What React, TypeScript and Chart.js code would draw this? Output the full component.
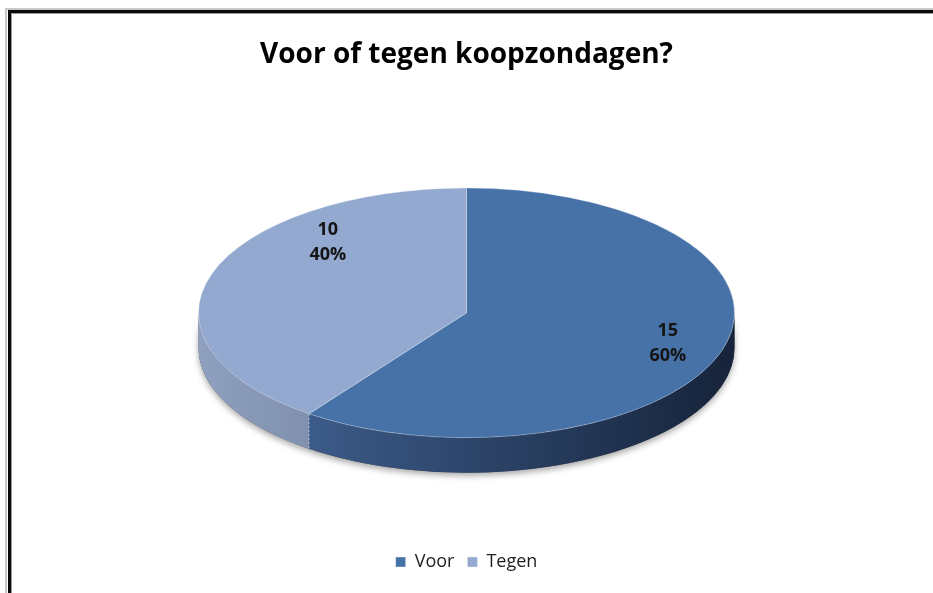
import React, { useEffect, useRef } from 'react';
import { Chart, registerables } from 'chart.js';

Chart.register(...registerables);

const TITLE = 'Voor of tegen koopzondagen?';
const categories = ['Voor', 'Tegen'];
const values = [15, 10];

const topColors = ['#4672A8', '#93A9CF'];
const sideStops = [
  ['#4A6CA0', '#37547F', '#16233A'],
  ['#8FA0C0', '#7A89A7', '#6A7A96'],
];

const pie3d = {
  id: 'pie3d',
  beforeDatasetsDraw(chart: any, _args: any, opts: any) {
    const meta = chart.getDatasetMeta(0);
    const ctx = chart.ctx as CanvasRenderingContext2D;
    const k = opts.tilt;
    const depth = opts.depth;
    if (!meta.data.length) return;
    const p0 = meta.data[0].getProps(['x', 'y', 'outerRadius']);
    const cx = p0.x, cy = p0.y, R = p0.outerRadius;

    ctx.save();
    ctx.beginPath();
    ctx.ellipse(cx, cy, R, R * k, 0, 0, Math.PI);
    ctx.ellipse(cx, cy + depth, R, R * k, 0, Math.PI, 0, true);
    ctx.closePath();
    ctx.shadowColor = 'rgba(0,0,0,0.35)';
    ctx.shadowBlur = 6;
    ctx.shadowOffsetY = 3;
    ctx.fillStyle = '#555';
    ctx.fill();
    ctx.restore();

    meta.data.forEach((arc: any, i: number) => {
      const { startAngle, endAngle } = arc.getProps(['startAngle', 'endAngle']);
      for (const base of [-2 * Math.PI, 0, 2 * Math.PI]) {
        const a1 = Math.max(startAngle, base);
        const a2 = Math.min(endAngle, base + Math.PI);
        if (a2 <= a1) continue;
        ctx.save();
        const g = ctx.createLinearGradient(cx - R, 0, cx + R, 0);
        const s = sideStops[i];
        g.addColorStop(0, s[0]);
        g.addColorStop(0.3, s[1]);
        g.addColorStop(1, s[2]);
        ctx.beginPath();
        ctx.ellipse(cx, cy, R, R * k, 0, a1, a2);
        ctx.ellipse(cx, cy + depth, R, R * k, 0, a2, a1, true);
        ctx.closePath();
        ctx.fillStyle = g;
        ctx.fill();
        ctx.restore();
      }
      const a = startAngle;
      const sa = Math.sin(a);
      if (sa > 0) {
        const px = cx + R * Math.cos(a);
        const py = cy + R * k * sa;
        ctx.save();
        ctx.strokeStyle = 'rgba(230,236,245,0.6)';
        ctx.lineWidth = 1;
        ctx.setLineDash([2, 2]);
        ctx.beginPath();
        ctx.moveTo(px, py);
        ctx.lineTo(px, py + depth);
        ctx.stroke();
        ctx.restore();
      }
    });

    ctx.save();
    ctx.translate(0, cy);
    ctx.scale(1, k);
    ctx.translate(0, -cy);
  },
  afterDatasetsDraw(chart: any, _args: any, opts: any) {
    const ctx = chart.ctx as CanvasRenderingContext2D;
    ctx.restore();
    const meta = chart.getDatasetMeta(0);
    const data = chart.data.datasets[0].data as number[];
    const total = data.reduce((a, b) => a + b, 0);
    const k = opts.tilt;
    meta.data.forEach((arc: any, i: number) => {
      const { x, y, startAngle, endAngle, outerRadius } = arc.getProps([
        'x', 'y', 'startAngle', 'endAngle', 'outerRadius',
      ]);
      const place = opts.labelPlacement[i];
      const mid = (startAngle + endAngle) / 2 + place.shift;
      const lx = x + Math.cos(mid) * outerRadius * place.r;
      const ly = y + Math.sin(mid) * outerRadius * place.r * k;
      ctx.save();
      ctx.fillStyle = '#141414';
      ctx.font = 'bold 18px "Open Sans"';
      ctx.textAlign = 'center';
      ctx.textBaseline = 'middle';
      ctx.fillText(String(data[i]), lx, ly - 12);
      ctx.fillText(Math.round((data[i] / total) * 100) + '%', lx, ly + 13);
      ctx.restore();
    });
  },
};

const frame = {
  id: 'frame',
  beforeDraw(chart: any) {
    const ctx = chart.ctx as CanvasRenderingContext2D;
    ctx.save();
    ctx.fillStyle = '#ffffff';
    ctx.fillRect(0, 0, chart.width, chart.height);
    ctx.fillStyle = '#c8c8c8';
    ctx.fillRect(7, 8, chart.width, 2);
    ctx.fillRect(5, 8, 2, chart.height);
    ctx.fillStyle = '#0a0a0a';
    ctx.fillRect(8, 10, chart.width, 3);
    ctx.fillRect(8, 10, 3, chart.height);
    ctx.fillStyle = '#9a9a9a';
    ctx.fillRect(11, 13, chart.width, 1);
    ctx.fillRect(11, 13, 1, chart.height);
    ctx.restore();
  },
};

export default function App() {
  const ref = useRef<HTMLCanvasElement | null>(null);
  useEffect(() => {
    document.body.style.margin = '0';
    document.body.style.overflow = 'hidden';
    const chart = new Chart(ref.current as HTMLCanvasElement, {
      type: 'pie',
      data: {
        labels: categories,
        datasets: [
          {
            data: values,
            backgroundColor: topColors,
            borderColor: 'rgba(235,240,248,0.45)',
            borderWidth: 1,
            radius: 268,
          } as any,
        ],
      },
      options: {
        responsive: false,
        animation: false,
        layout: { padding: { top: 0, bottom: 12, left: 0, right: 0 } },
        plugins: {
          title: {
            display: true,
            text: TITLE,
            color: '#000000',
            font: { family: '"Open Sans"', size: 28, weight: 'bold' },
            padding: { top: 38, bottom: 14 },
          },
          legend: {
            position: 'bottom',
            labels: {
              boxWidth: 10,
              boxHeight: 10,
              color: '#1e1e1e',
              padding: 13,
              font: { family: '"Open Sans"', size: 18 },
            },
          },
          tooltip: { enabled: false },
          pie3d: {
            tilt: 0.466,
            depth: 35,
            labelPlacement: [
              { r: 0.79, shift: 0 },
              { r: 0.77, shift: 0.52 },
            ],
          },
        } as any,
      },
      plugins: [frame, pie3d],
    });
    return () => chart.destroy();
  }, []);
  return <canvas ref={ref} width={933} height={593} style={{ display: 'block' }} />;
}
